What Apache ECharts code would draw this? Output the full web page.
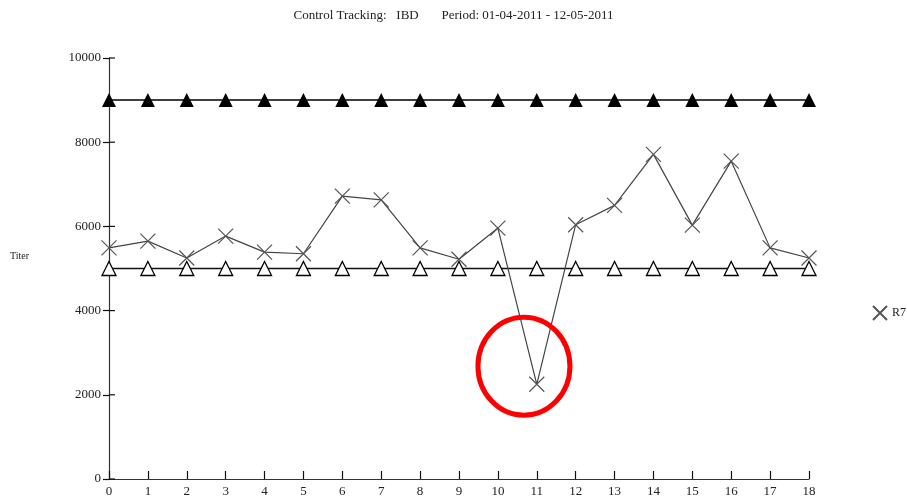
<!DOCTYPE html>
<html>
<head>
<meta charset="utf-8">
<script src="https://cdn.jsdelivr.net/npm/echarts@6/dist/echarts.min.js"></script>
<style>html,body{margin:0;padding:0;background:#fff}#c{width:907px;height:503px}</style>
</head>
<body>
<div id="c"></div>
<script>
var runs = ['0','1','2','3','4','5','6','7','8','9','10','11','12','13','14','15','16','17','18'];
var r7Values = [5490, 5650, 5250, 5770, 5390, 5350, 6720, 6630, 5490, 5220, 5960, 2250, 6040, 6500, 7710, 6030, 7550, 5490, 5250];
var upperLimit = [9000, 9000, 9000, 9000, 9000, 9000, 9000, 9000, 9000, 9000, 9000, 9000, 9000, 9000, 9000, 9000, 9000, 9000, 9000];
var lowerLimit = [5000, 5000, 5000, 5000, 5000, 5000, 5000, 5000, 5000, 5000, 5000, 5000, 5000, 5000, 5000, 5000, 5000, 5000, 5000];
var yTicks = [0, 2000, 4000, 6000, 8000, 10000];
var circleCenter = [10.67, 2680];

var FONT = '"Liberation Serif", "DejaVu Serif", serif';
var CROSS = 'path://M0,0L10,10M10,0L0,10';

function pairs(arr) { return arr.map(function (v, i) { return [Number(runs[i]), v]; }); }

var chart = echarts.init(document.getElementById('c'), null, {renderer: 'canvas'});
var axisLine = {show: true, lineStyle: {color: '#333', width: 1.2}};
var yMin = yTicks[0], yMax = yTicks[yTicks.length - 1], yStep = yTicks[1] - yTicks[0];
var option = {
  animation: false,
  backgroundColor: '#fff',
  title: {
    text: 'Control Tracking:\u00a0\u00a0\u00a0IBD\u00a0\u00a0\u00a0\u00a0\u00a0\u00a0\u00a0Period: 01-04-2011 - 12-05-2011',
    left: 'center', top: 4,
    textStyle: {fontFamily: FONT, fontSize: 13, fontWeight: 'normal', color: '#222'}
  },
  legend: {
    data: [{name: 'R7', icon: CROSS}],
    left: 867, top: 300, itemWidth: 14, itemHeight: 14, itemGap: 6,
    textStyle: {fontFamily: FONT, fontSize: 12, color: '#222'}
  },
  grid: {left: 109, right: 98, top: 58, bottom: 24},
  xAxis: {
    type: 'value', min: 0, max: 18, interval: 1,
    axisLine: axisLine,
    axisTick: {show: true, inside: true, length: 8, lineStyle: {color: '#111', width: 1.2}},
    splitLine: {show: false},
    axisLabel: {fontFamily: FONT, fontSize: 13, color: '#222', margin: 6,
      formatter: function (v) { return runs[v] !== undefined ? runs[v] : ''; }}
  },
  yAxis: {
    type: 'value', min: yMin, max: yMax, interval: yStep,
    axisLine: axisLine,
    axisTick: {show: true, inside: false, length: 6, lineStyle: {color: '#111', width: 1.2}},
    splitLine: {show: false},
    axisLabel: {fontFamily: FONT, fontSize: 13, color: '#222', margin: 8,
      formatter: function (v) { return String(v); }}
  },
  series: [{
    name: 'UCL', type: 'line', data: pairs(upperLimit),
    symbol: 'triangle', symbolSize: 14,
    lineStyle: {color: '#000', width: 1.5},
    itemStyle: {color: '#000'}, z: 2
  }, {
    name: 'LCL', type: 'line', data: pairs(lowerLimit),
    symbol: 'triangle', symbolSize: 14, showAllSymbol: true,
    lineStyle: {color: '#111', width: 1.5},
    itemStyle: {color: '#fff', borderColor: '#000', borderWidth: 1.3}, z: 2
  }, {
    name: 'R7', type: 'line', data: pairs(r7Values),
    symbol: CROSS, symbolSize: 15, showAllSymbol: true,
    lineStyle: {color: '#444', width: 1.2},
    itemStyle: {color: 'transparent', borderColor: '#555', borderWidth: 1.2}, z: 3
  }, {
    name: 'yTickInner', type: 'custom', silent: true, clip: false, z: 1,
    data: yTicks.map(function (t) { return [0, t]; }),
    renderItem: function (params, api) {
      var p = api.coord([api.value(0), api.value(1)]);
      return {
        type: 'line',
        shape: {x1: p[0], y1: p[1], x2: p[0] + 6, y2: p[1]},
        style: {stroke: '#111', lineWidth: 1.2}
      };
    }
  }]
};
chart.setOption(option);

var cpx = chart.convertToPixel({gridIndex: 0}, circleCenter);
chart.setOption({
  graphic: [{
    type: 'ellipse', shape: {cx: cpx[0], cy: cpx[1], rx: 46, ry: 49},
    style: {fill: 'none', stroke: '#ff0000', lineWidth: 5}, z: 10
  }, {
    type: 'text', left: 10, top: 251,
    style: {text: 'Titer', font: '10px ' + FONT, fill: '#222'}
  }]
});
</script>
</body>
</html>
